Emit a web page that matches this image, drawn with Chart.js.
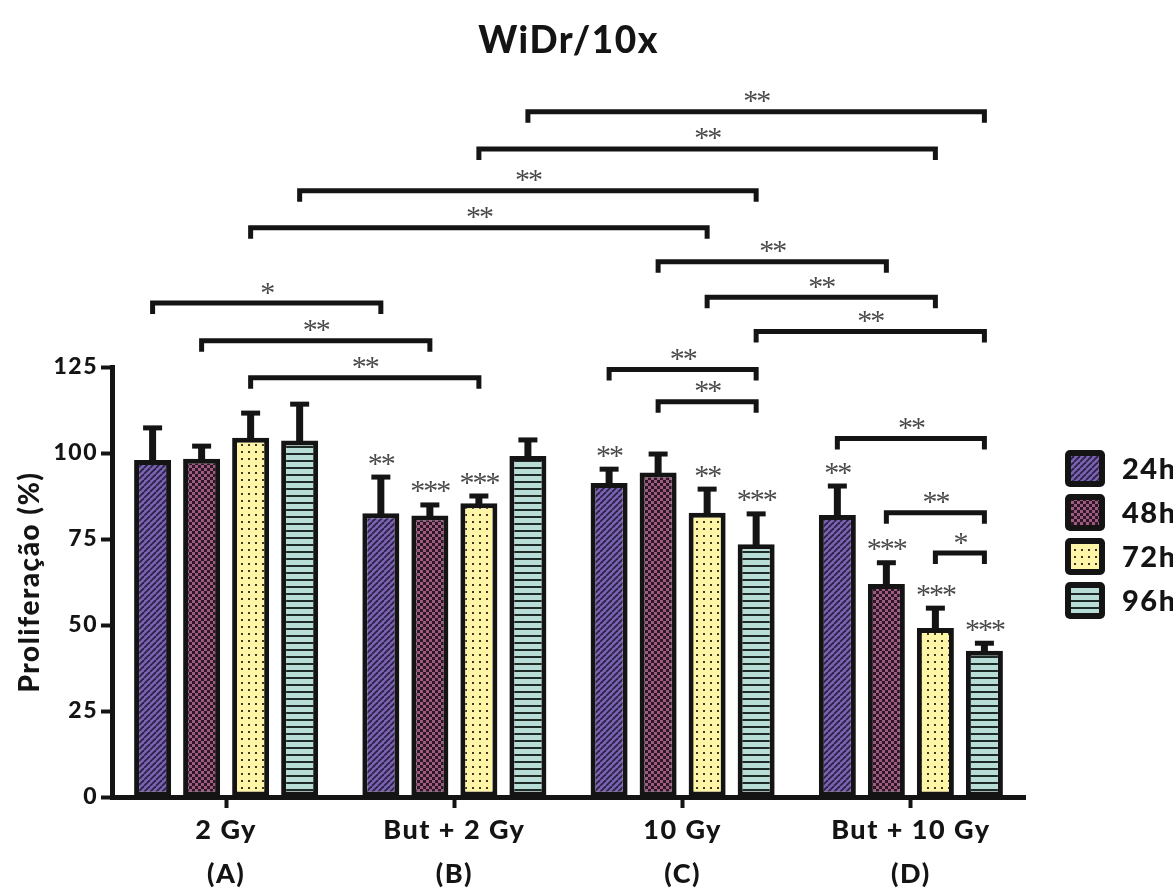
<!DOCTYPE html>
<html>
<head>
<meta charset="utf-8">
<script src="https://cdn.jsdelivr.net/npm/chart.js@4"></script>
<style>
  html, body { margin: 0; padding: 0; background: #fff; }
  canvas { display: block; }
</style>
</head>
<body>
<canvas id="chProlif" width="1173" height="888"></canvas>
<script>
// groups on the x axis
const groupNames   = ['2 Gy', 'But + 2 Gy', '10 Gy', 'But + 10 Gy'];
const groupLetters = ['(A)', '(B)', '(C)', '(D)'];

// time points (series)
const seriesLabels = ['24h', '48h', '72h', '96h'];

// mean proliferation (%) per series, in group order A..D
const mean24 = [98.0, 82.5, 91.3, 82.0];
const mean48 = [98.3, 81.8, 94.3, 61.9];
const mean72 = [104.4, 85.4, 82.6, 49.1];
const mean96 = [103.6, 99.1, 73.5, 42.5];

// upper error (SEM)
const err24 = [9.3, 10.5, 4.0, 8.4];
const err48 = [3.7, 3.1, 5.4, 6.2];
const err72 = [7.2, 2.1, 6.9, 5.8];
const err96 = [10.6, 4.7, 8.8, 2.2];

// stars over single bars
const sig24 = ['', '**', '**', '**'];
const sig48 = ['', '***', '', '***'];
const sig72 = ['', '***', '**', '***'];
const sig96 = ['', '', '***', '***'];

// comparison brackets: [groupA, seriesA, groupB, seriesB, level, label]
const brackets = [
  [1, 3, 3, 3, 199.2, '**'],
  [1, 2, 3, 2, 188.4, '**'],
  [0, 3, 2, 3, 176.2, '**'],
  [0, 2, 2, 2, 165.5, '**'],
  [2, 1, 3, 1, 155.6, '**'],
  [2, 2, 3, 2, 145.3, '**'],
  [2, 3, 3, 3, 135.3, '**'],
  [0, 0, 1, 0, 143.6, '*'],
  [0, 1, 1, 1, 132.6, '**'],
  [0, 2, 1, 2, 121.9, '**'],
  [2, 0, 2, 3, 124.3, '**'],
  [2, 1, 2, 3, 114.9, '**'],
  [3, 0, 3, 3, 104.2, '**'],
  [3, 1, 3, 3, 82.6, '**'],
  [3, 2, 3, 3, 70.9, '*'],
];

const yTicks = [0, 25, 50, 75, 100, 125];

const INK = '#141414';
const FONT = 'Lato, "Open Sans", sans-serif';
const HEAVY = '900';

// fill patterns ------------------------------------------------------------
function tile(w, h, draw) {
  const c = document.createElement('canvas');
  c.width = w; c.height = h;
  draw(c.getContext('2d'), w, h);
  return c.getContext('2d').createPattern(c, 'repeat');
}
const pat24 = tile(6, 6, (g, w, h) => {
  g.fillStyle = '#7a63b2'; g.fillRect(0, 0, w, h);
  g.strokeStyle = '#2b2145'; g.lineWidth = 1.8;
  for (const o of [-6, 0, 6]) { g.beginPath(); g.moveTo(o, h); g.lineTo(o + w, 0); g.stroke(); }
});
const pat48 = tile(6, 6, (g) => {
  g.fillStyle = '#2d1626'; g.fillRect(0, 0, 6, 6);
  g.fillStyle = '#9e5b80'; g.fillRect(0, 0, 3, 3); g.fillRect(3, 3, 3, 3);
});
const pat72 = tile(7, 7, (g) => {
  g.fillStyle = '#fff5a6'; g.fillRect(0, 0, 7, 7);
  g.fillStyle = '#3b3722'; g.fillRect(3, 3, 2, 2);
});
const pat96 = tile(4, 7, (g) => {
  g.fillStyle = '#b8ddd6'; g.fillRect(0, 0, 4, 7);
  g.fillStyle = '#1d2a28'; g.fillRect(0, 5, 4, 2);
});

const fills = [pat24, pat48, pat72, pat96];
const means = [mean24, mean48, mean72, mean96];
const errs  = [err24, err48, err72, err96];
const sigs  = [sig24, sig48, sig72, sig96];

// helpers -------------------------------------------------------------------
function drawStars(ctx, txt, x, yMid) {
  ctx.font = '30px "Liberation Serif", serif';
  ctx.letterSpacing = '-2px';
  const m = ctx.measureText(txt);
  const asc = m.actualBoundingBoxAscent, desc = m.actualBoundingBoxDescent;
  ctx.textAlign = 'center';
  ctx.textBaseline = 'alphabetic';
  ctx.fillText(txt, x, yMid + (asc - desc) / 2);
}

// wider tracking for all the labels Chart.js draws
const tracking = {
  id: 'tracking',
  beforeDraw(chart) { chart.ctx.letterSpacing = '1.5px'; }
};

const errorBars = {
  id: 'errorBars',
  afterDatasetsDraw(chart) {
    const { ctx } = chart, y = chart.scales.y;
    ctx.save();
    ctx.strokeStyle = INK;
    chart.data.datasets.forEach((ds, i) => {
      chart.getDatasetMeta(i).data.forEach((bar, j) => {
        const top = y.getPixelForValue(ds.data[j]);
        const cap = y.getPixelForValue(ds.data[j] + ds.errUp[j]);
        ctx.lineWidth = 7;
        ctx.beginPath(); ctx.moveTo(bar.x, top + 3); ctx.lineTo(bar.x, cap); ctx.stroke();
        ctx.lineWidth = 5;
        ctx.beginPath(); ctx.moveTo(bar.x - 9.5, cap); ctx.lineTo(bar.x + 9.5, cap); ctx.stroke();
        if (ds.sig[j]) {
          ctx.fillStyle = '#4a4a4a';
          drawStars(ctx, ds.sig[j], bar.x, cap - 18);
        }
      });
    });
    ctx.restore();
  }
};

const sigBrackets = {
  id: 'sigBrackets',
  afterDraw(chart) {
    const { ctx } = chart, y = chart.scales.y;
    ctx.save();
    ctx.strokeStyle = INK; ctx.lineWidth = 5; ctx.lineJoin = 'miter'; ctx.lineCap = 'butt';
    brackets.forEach(([g1, s1, g2, s2, lvl, lab]) => {
      const x1 = chart.getDatasetMeta(s1).data[g1].x;
      const x2 = chart.getDatasetMeta(s2).data[g2].x;
      const py = y.getPixelForValue(lvl);
      ctx.beginPath();
      ctx.moveTo(x1, py + 11); ctx.lineTo(x1, py); ctx.lineTo(x2, py); ctx.lineTo(x2, py + 11);
      ctx.stroke();
      ctx.fillStyle = '#4a4a4a';
      drawStars(ctx, lab, (x1 + x2) / 2, py - 15);
    });
    ctx.restore();
  }
};

const sideLegend = {
  id: 'sideLegend',
  afterDraw(chart) {
    const { ctx, chartArea } = chart;
    const x = chartArea.right + 40, y0 = chartArea.top + 83;
    ctx.save();
    chart.data.datasets.forEach((ds, i) => {
      const y = y0 + i * 44;
      ctx.fillStyle = INK;
      ctx.beginPath(); ctx.roundRect(x, y, 40, 37, 5); ctx.fill();
      ctx.fillStyle = ds.backgroundColor;
      ctx.fillRect(x + 6, y + 6, 28, 25);
      ctx.fillStyle = INK;
      ctx.font = HEAVY + ' 29px ' + FONT;
      ctx.letterSpacing = '1.5px';
      ctx.textAlign = 'left'; ctx.textBaseline = 'middle';
      ctx.fillText(ds.label, x + 57, y + 20);
    });
    ctx.restore();
  }
};

// chart --------------------------------------------------------------------
const datasets = seriesLabels.map((lab, i) => ({
  label: lab,
  data: means[i],
  errUp: errs[i],
  sig: sigs[i],
  backgroundColor: fills[i],
  borderColor: INK,
  borderWidth: 5,
  borderSkipped: false,
  categoryPercentage: 0.859,
  barPercentage: 0.755,
}));

new Chart(document.getElementById('chProlif'), {
  type: 'bar',
  data: { labels: groupNames.map((n, i) => [n, groupLetters[i]]), datasets },
  options: {
    responsive: false,
    animation: false,
    devicePixelRatio: 1,
    layout: { padding: { left: 0, right: 148, top: 0, bottom: 0 } },
    plugins: {
      legend: { display: false },
      tooltip: { enabled: false },
      title: {
        display: true, text: 'WiDr/10x', fullSize: false, color: INK,
        font: { family: FONT, size: 37, weight: HEAVY, lineHeight: 1.2 },
        padding: { top: 19, bottom: 303.6 },
      },
    },
    scales: {
      x: {
        afterFit: s => { s.height = 91; },
        grid: { offset: false, drawOnChartArea: false, drawTicks: true, tickLength: 11, tickWidth: 4, tickColor: INK },
        border: { display: true, width: 5, color: INK },
        ticks: { color: INK, padding: 1, maxRotation: 0, autoSkip: false,
                 font: { family: FONT, size: 27, weight: HEAVY, lineHeight: 1.6 } },
      },
      y: {
        min: 0, max: 125,
        afterFit: s => { s.width = 112; },
        afterBuildTicks: s => { s.ticks = yTicks.map(v => ({ value: v })); },
        grid: { drawOnChartArea: false, drawTicks: true, tickLength: 11, tickWidth: 4, tickColor: INK },
        border: { display: true, width: 5, color: INK },
        ticks: { color: INK, padding: 3, font: { family: FONT, size: 23, weight: HEAVY } },
        title: { display: true, text: 'Proliferação (%)', color: INK, padding: { top: 13, bottom: 0 },
                 font: { family: FONT, size: 28, weight: HEAVY, lineHeight: 1.2 } },
      },
    },
  },
  plugins: [tracking, errorBars, sigBrackets, sideLegend],
});
</script>
</body>
</html>
